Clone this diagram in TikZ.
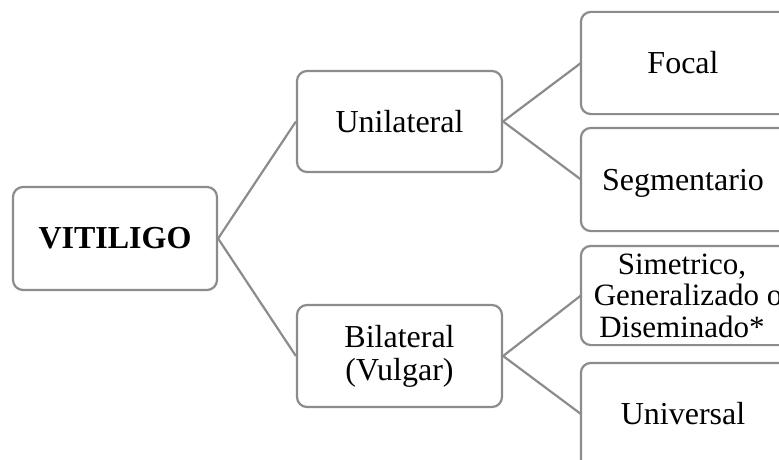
\documentclass[tikz,border=0pt]{standalone}
\usepackage{fontspec}
\setmainfont{Liberation Serif}
\definecolor{edgegray}{RGB}{140,140,140}
\begin{document}
\begin{tikzpicture}[x=1pt,y=-1pt,
  box/.style={draw=edgegray, line width=2.2pt, rounded corners=10pt,
    fill=white, align=center, inner sep=0pt,
    font=\fontsize{32}{33}\selectfont},
  leaf/.style={box, draw=none, fill=none, minimum width=202pt},
  frame/.style={draw=edgegray, line width=2.2pt, rounded corners=10pt},
  link/.style={draw=edgegray, line width=2.2pt}]
  \useasboundingbox (0,0) rectangle (779,460);
  \clip (0,0) rectangle (779,460);
  \fill[white] (0,0) rectangle (779,460);
  % root
  \node[box, minimum width=204pt, minimum height=103pt, font=\bfseries\fontsize{32}{33}\selectfont] (vit) at (115,238.5) {VITILIGO};
  % second level
  \node[box, minimum width=205pt, minimum height=101pt] (uni) at (399.5,121.5) {Unilateral};
  \node[box, minimum width=205pt, minimum height=102pt] (bil) at (399.5,356) {Bilateral\\(Vulgar)};
  % third level: boxes run on past the right edge of the page
  \node[leaf, minimum height=100pt] (foc) at (683,63) {Focal};
  \node[leaf, minimum height=101pt, text depth=0pt] (seg) at (683,179.5) {Segmentario};
  \node[leaf, minimum height=100pt, font=\fontsize{31}{31.5}\selectfont] (sim) at (682,295.5) {Simetrico,\\\hspace*{12pt}Generalizado o\\Diseminado*};
  \node[leaf, minimum height=100pt] (unv) at (683,414) {Universal};
  \draw[frame] (foc.north west) rectangle ([xshift=40pt]foc.south east);
  \draw[frame] (seg.north west) rectangle ([xshift=40pt]seg.south east);
  \draw[frame] ([xshift=1pt,yshift=-1.5pt]sim.north west) rectangle ([xshift=40pt,yshift=1.5pt]sim.south east);
  \draw[frame] (unv.north west) rectangle ([xshift=40pt,yshift=-30pt]unv.south east);
  % connectors
  \draw[link] (vit.east) -- (uni.west);
  \draw[link] (vit.east) -- (bil.west);
  \draw[link] (uni.east) -- (foc.west);
  \draw[link] (uni.east) -- (seg.west);
  \draw[link] (bil.east) -- ([xshift=1pt]sim.west);
  \draw[link] (bil.east) -- (unv.west);
\end{tikzpicture}
\end{document}
